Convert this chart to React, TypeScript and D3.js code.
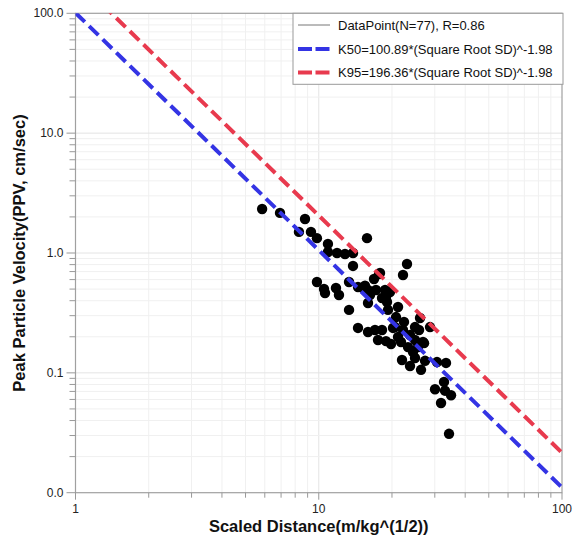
import * as d3 from 'd3';
import React, { useEffect, useRef } from 'react';

// scaled distance (m/kg^(1/2)) vs PPV (cm/sec)
const distance = [
  5.85, 6.93, 8.78, 8.29, 9.29, 9.83, 15.79, 10.91, 10.91, 11.89,
  12.82, 13.83, 13.83, 23.06, 22.2, 17.69, 16.87, 9.83, 10.51, 10.61,
  11.77, 12.11, 13.32, 14.5, 15.49, 15.94, 17.19, 16.24, 18.73, 19.63,
  18.2, 19.08, 15.94, 13.32, 19.26, 21.18, 20.78, 22.41, 20.2, 26.08,
  24.87, 25.84, 28.67, 27.09, 14.5, 15.94, 17.03, 18.2, 17.52, 18.9,
  19.82, 21.18, 21.78, 23.72, 24.87, 24.41, 21.99, 23.72, 24.87, 26.33,
  27.35, 30.63, 33.36, 32.73, 30.06, 33.04, 34.98, 31.82, 34.32, 15.2,
  22.2, 20.58, 23.28, 25.59, 26.83, 17.86, 18.9
];
const ppv = [
  2.33, 2.16, 1.92, 1.5, 1.5, 1.33, 1.33, 1.19, 1.02, 1.0,
  0.98, 1.0, 0.78, 0.81, 0.655, 0.668, 0.607, 0.573, 0.501, 0.464,
  0.51, 0.446, 0.573, 0.52, 0.534, 0.491, 0.491, 0.446, 0.491, 0.473,
  0.421, 0.39, 0.383, 0.335, 0.335, 0.354, 0.292, 0.266, 0.237, 0.287,
  0.241, 0.228, 0.241, 0.177, 0.237, 0.219, 0.228, 0.228, 0.188, 0.184,
  0.174, 0.199, 0.181, 0.207, 0.188, 0.149, 0.128, 0.114, 0.133, 0.106,
  0.126, 0.123, 0.121, 0.084, 0.073, 0.071, 0.065, 0.056, 0.031, 0.51,
  0.228, 0.241, 0.164, 0.164, 0.181, 0.681, 0.43
];

const xTicks = [1, 10, 100];
const yTicks = [0.01, 0.1, 1, 10, 100];

const k50 = 100.89;
const k95 = 196.36;
const expo = -1.98;

const legendLabels = [
  'DataPoint(N=77), R=0.86',
  'K50=100.89*(Square Root SD)^-1.98',
  'K95=196.36*(Square Root SD)^-1.98'
];

const BLUE = '#3434e4';
const RED = '#e83a4e';

export default function App() {
  const ref = useRef<SVGSVGElement>(null);
  const width = 574;
  const height = 541;
  const margin = { top: 13.3, right: 12, bottom: 48.3, left: 75.5 };

  useEffect(() => {
    const svg = d3.select(ref.current);
    svg.selectAll('*').remove();

    const x = d3.scaleLog().domain([1, 100]).range([margin.left, width - margin.right]);
    const y = d3.scaleLog().domain([0.01, 100]).range([height - margin.bottom, margin.top]);

    const minorX: number[] = [];
    for (let d = 1; d < 100; d *= 10) for (let k = 2; k <= 9; k++) minorX.push(d * k);
    const minorY: number[] = [];
    for (let d = 0.01; d < 99; d *= 10) for (let k = 2; k <= 9; k++) minorY.push(+(d * k).toPrecision(3));

    const grid = svg.append('g');
    grid.selectAll('.vx').data(minorX.concat([10])).enter().append('line')
      .attr('x1', d => x(d)).attr('x2', d => x(d))
      .attr('y1', margin.top).attr('y2', height - margin.bottom)
      .attr('stroke', d => (d === 10 ? '#e4e4e4' : '#f0f0f0')).attr('stroke-width', 1);
    grid.selectAll('.hy').data(minorY.concat([0.1, 1, 10])).enter().append('line')
      .attr('y1', d => y(d)).attr('y2', d => y(d))
      .attr('x1', margin.left).attr('x2', width - margin.right)
      .attr('stroke', d => ([0.1, 1, 10].includes(d) ? '#e4e4e4' : '#f0f0f0')).attr('stroke-width', 1);

    // frame
    svg.append('rect')
      .attr('x', margin.left).attr('y', margin.top)
      .attr('width', width - margin.left - margin.right)
      .attr('height', height - margin.top - margin.bottom)
      .attr('fill', 'none').attr('stroke', '#a0a0a0').attr('stroke-width', 1.2);

    // ticks
    const tk = svg.append('g').attr('stroke', '#999');
    tk.selectAll('.ty').data(minorY).enter().append('line')
      .attr('x1', margin.left - 6).attr('x2', margin.left)
      .attr('y1', d => y(d)).attr('y2', d => y(d));
    tk.selectAll('.tY').data(yTicks).enter().append('line')
      .attr('x1', margin.left - 9).attr('x2', margin.left)
      .attr('y1', d => y(d)).attr('y2', d => y(d));
    tk.selectAll('.tx').data(minorX).enter().append('line')
      .attr('y1', height - margin.bottom).attr('y2', height - margin.bottom + 5)
      .attr('x1', d => x(d)).attr('x2', d => x(d));
    tk.selectAll('.tX').data(xTicks).enter().append('line')
      .attr('y1', height - margin.bottom).attr('y2', height - margin.bottom + 7)
      .attr('x1', d => x(d)).attr('x2', d => x(d));

    const font = 'Arial, "Liberation Sans", sans-serif';
    svg.append('g').selectAll('text').data(yTicks).enter().append('text')
      .attr('x', margin.left - 12).attr('y', d => y(d) + 4)
      .attr('text-anchor', 'end').attr('font-family', font).attr('font-size', 12)
      .attr('fill', '#222').text(d => d3.format('.1f')(d));
    svg.append('g').selectAll('text').data(xTicks).enter().append('text')
      .attr('x', d => x(d)).attr('y', height - margin.bottom + 20)
      .attr('text-anchor', 'middle').attr('font-family', font).attr('font-size', 12)
      .attr('fill', '#222').text(d => String(d));

    // axis titles
    svg.append('text')
      .attr('x', (margin.left + width - margin.right) / 2).attr('y', 532)
      .attr('text-anchor', 'middle').attr('font-family', font)
      .attr('font-size', 16.5).attr('font-weight', 'bold').attr('fill', '#111')
      .text('Scaled Distance(m/kg^(1/2))');
    svg.append('text')
      .attr('transform', `translate(25,${(margin.top + height - margin.bottom) / 2}) rotate(-90)`)
      .attr('text-anchor', 'middle').attr('font-family', font)
      .attr('font-size', 16.5).attr('font-weight', 'bold').attr('fill', '#111')
      .text('Peak Particle Velocity(PPV, cm/sec)');

    // clip for fit lines
    svg.append('clipPath').attr('id', 'plotclip').append('rect')
      .attr('x', margin.left).attr('y', margin.top)
      .attr('width', width - margin.left - margin.right)
      .attr('height', height - margin.top - margin.bottom);

    const line = d3.line<number>().x(d => x(d[0])).y(d => y(d[1]));
    const fit = (k: number) => [[1, k * Math.pow(1, expo)], [100, k * Math.pow(100, expo)]];

    // points
    svg.append('g').selectAll('circle').data(distance).enter().append('circle')
      .attr('cx', d => x(d)).attr('cy', (d, i) => y(ppv[i]))
      .attr('r', 5.2).attr('fill', '#000');

    const fits = svg.append('g').attr('clip-path', 'url(#plotclip)');
    fits.append('path').attr('d', line(fit(k50) as any))
      .attr('fill', 'none').attr('stroke', BLUE).attr('stroke-width', 4).attr('stroke-dasharray', '13,6');
    fits.append('path').attr('d', line(fit(k95) as any))
      .attr('fill', 'none').attr('stroke', RED).attr('stroke-width', 4).attr('stroke-dasharray', '13,6');

    // legend
    const lg = svg.append('g');
    lg.append('rect').attr('x', 293).attr('y', 13.3).attr('width', 270).attr('height', 71)
      .attr('fill', '#fff').attr('stroke', '#999').attr('stroke-width', 1);
    const rowY = [25, 49, 72.5];
    lg.append('line').attr('x1', 298).attr('x2', 330).attr('y1', rowY[0]).attr('y2', rowY[0])
      .attr('stroke', '#777').attr('stroke-width', 1);
    lg.append('line').attr('x1', 298).attr('x2', 330).attr('y1', rowY[1]).attr('y2', rowY[1])
      .attr('stroke', BLUE).attr('stroke-width', 4).attr('stroke-dasharray', '14,3.5');
    lg.append('line').attr('x1', 298).attr('x2', 330).attr('y1', rowY[2]).attr('y2', rowY[2])
      .attr('stroke', RED).attr('stroke-width', 4).attr('stroke-dasharray', '14,3.5');
    lg.selectAll('text').data(legendLabels).enter().append('text')
      .attr('x', 338).attr('y', (d, i) => rowY[i] + 4.5)
      .attr('font-family', font).attr('font-size', 13).attr('fill', '#111')
      .text(d => d);
  }, []);

  return (
    <div style={{ position: 'absolute', left: 0, top: 0 }}>
      <svg ref={ref} width={width} height={height} style={{ display: 'block', background: '#fff' }} />
    </div>
  );
}
